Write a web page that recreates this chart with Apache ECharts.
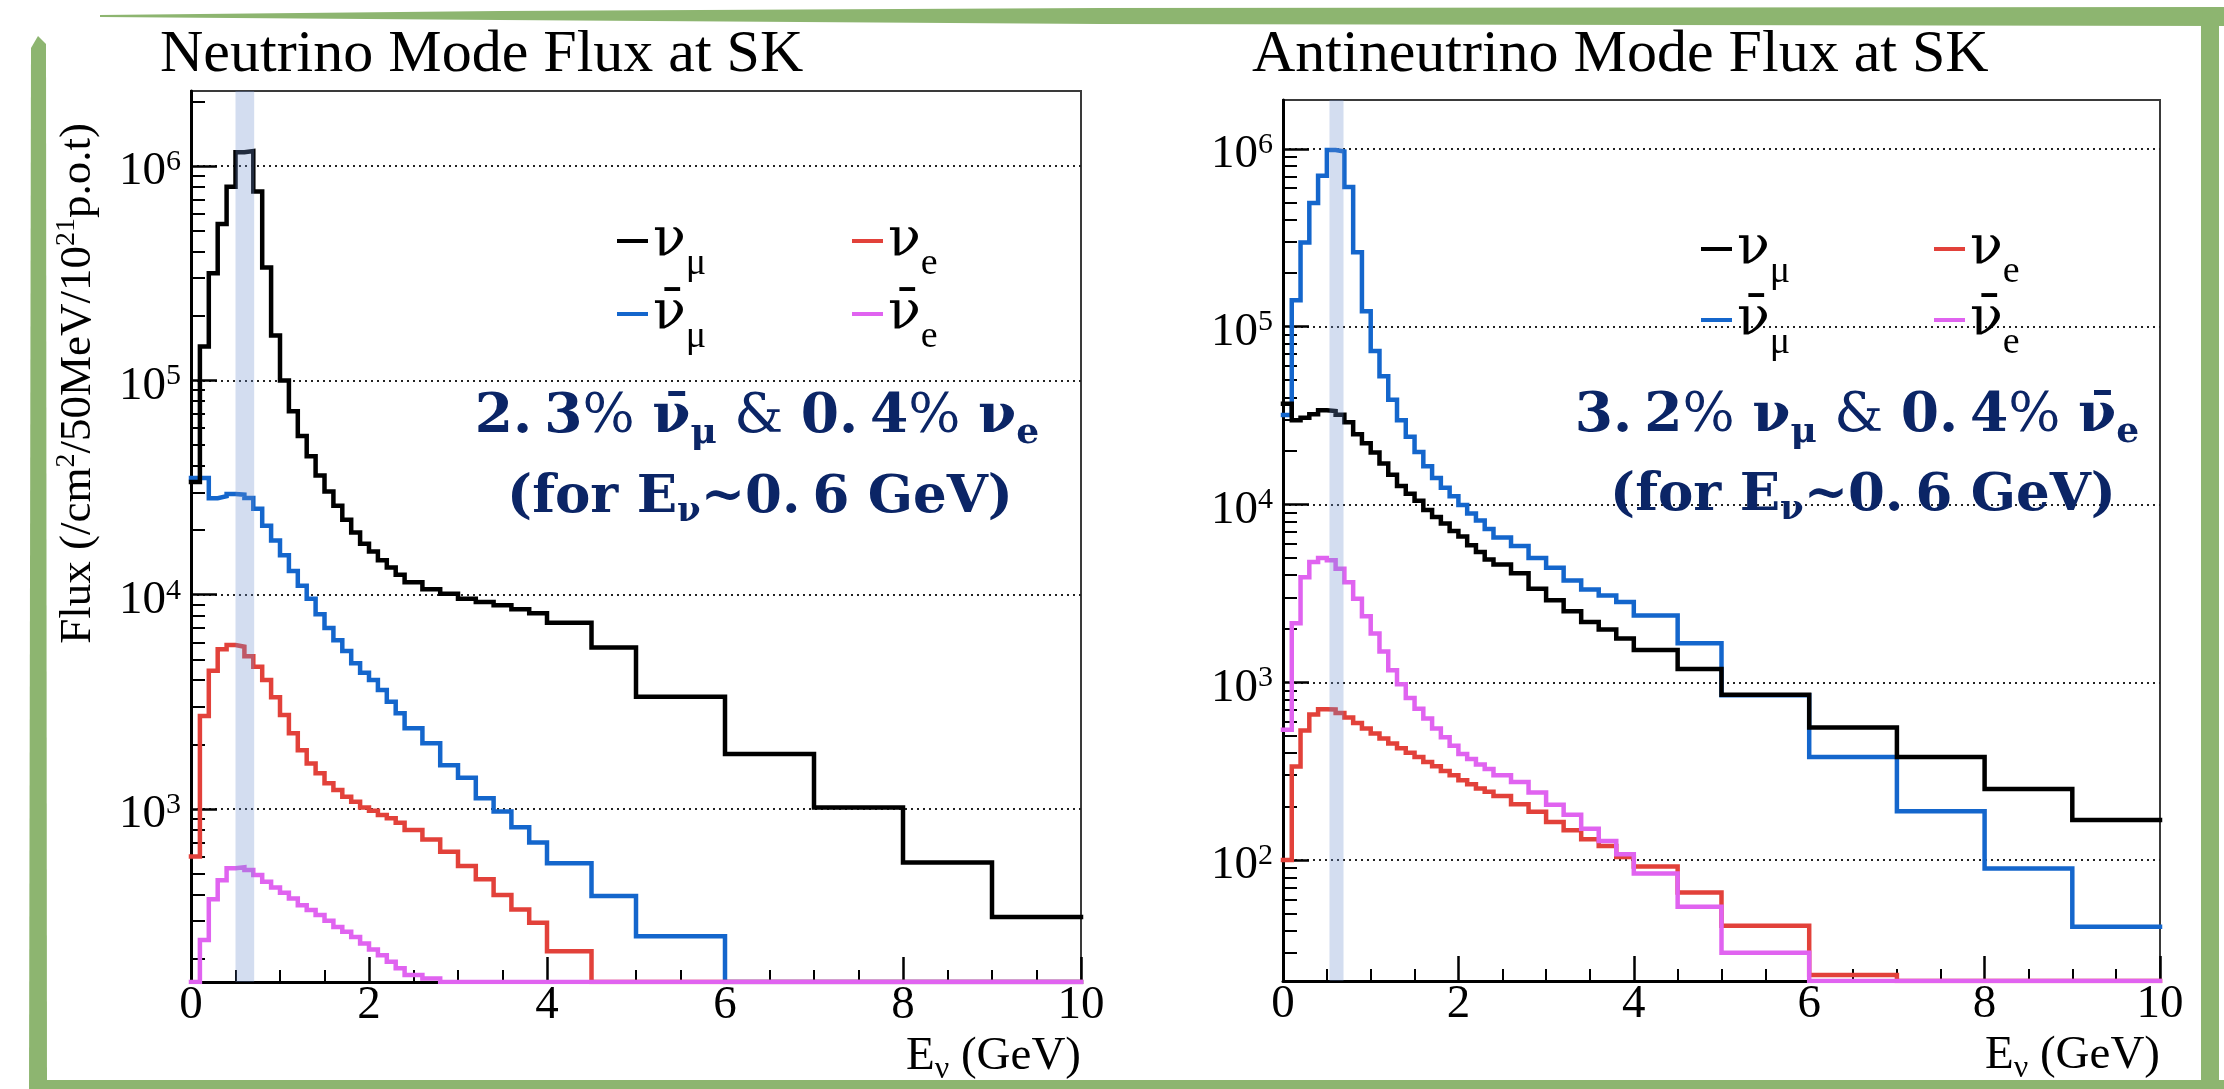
<!DOCTYPE html>
<html>
<head>
<meta charset="utf-8">
<script src="https://cdn.jsdelivr.net/npm/echarts@6/dist/echarts.min.js"></script>
<style>
  html, body { margin: 0; padding: 0; background: #ffffff; }
  #chart { width: 2224px; height: 1089px; }
</style>
</head>
<body>
<div id="chart"></div>
<script>
// Energy bin edges (GeV): 0.1 GeV bins to 2.4, 0.2 GeV bins to 4.0, then coarse bins
const binEdges = [0, 0.1, 0.2, 0.3, 0.4, 0.5, 0.6, 0.7, 0.8, 0.9, 1.0, 1.1, 1.2, 1.3, 1.4, 1.5, 1.6, 1.7, 1.8, 1.9,
  2.0, 2.1, 2.2, 2.3, 2.4, 2.6, 2.8, 3.0, 3.2, 3.4, 3.6, 3.8, 4.0, 4.5, 5, 6, 7, 8, 9, 10];

// Neutrino-mode flux at SK (/cm^2/50MeV/1e21 p.o.t), one value per bin; 0 = below the plotted range
const nuMode_numu = [33600, 144000, 316000, 536000, 800000, 1160000, 1175000, 760000, 336000, 162000,
  100000, 71800, 55000, 44300, 36000, 30300, 26000, 22400, 19500, 17300,
  15900, 14500, 13400, 12400,
  11450, 10600, 10100, 9580, 9250, 8920, 8550, 8200,
  7400, 5680, 3340, 1807, 1018, 563, 314];
const nuMode_numubar = [35000, 35000, 28200, 28800, 29500, 29300, 28300, 25200, 21000, 17900,
  15300, 12900, 11000, 9580, 8100, 7000, 6130, 5460, 4790, 4330,
  4000, 3590, 3170, 2800,
  2380, 2030, 1600, 1400, 1122, 975, 822, 698,
  558, 393, 255, 0, 0, 0, 0];
const nuMode_nue = [600, 2720, 4420, 5560, 5820, 5720, 5170, 4610, 4000, 3320,
  2750, 2260, 1880, 1630, 1470, 1318, 1227, 1141, 1082, 1018,
  982, 938, 905, 864,
  798, 722, 632, 542, 470, 397, 340, 295,
  217, 0, 0, 0, 0, 0, 0];
const nuMode_nuebar = [0, 245, 380, 466, 529, 535, 519, 492, 458, 431,
  407, 383, 356, 338, 320, 301, 282, 268, 253, 236,
  221, 208, 194, 181,
  168, 162, 0, 0, 0, 0, 0, 0,
  0, 0, 0, 0, 0, 0, 0];

// Antineutrino-mode flux at SK
const antiMode_numu = [36800, 29700, 30700, 32100, 33800, 33500, 31900, 29000, 24800, 22100,
  19600, 17000, 14700, 12700, 11500, 10500, 9300, 8500, 7800, 7100,
  6600, 5900, 5400, 4900,
  4600, 4100, 3360, 2890, 2507, 2183, 1977, 1760,
  1520, 1186, 851, 556, 380, 251, 168];
const antiMode_numubar = [31850, 140500, 297000, 495000, 706000, 985000, 966000, 610000, 262000, 122000,
  73000, 52500, 38800, 29700, 24000, 19700, 16400, 14100, 12400, 11100,
  9930, 8890, 8130, 7280,
  6510, 5830, 5000, 4400, 3740, 3320, 3080, 2830,
  2377, 1656, 845, 380, 188, 89.7, 42.2];
const antiMode_nue = [100, 336, 536, 658, 705, 703, 672, 633, 590, 550,
  515, 483, 453, 425, 401, 380, 356, 337, 317, 300,
  281, 267, 253, 242,
  229, 206, 187, 164, 147, 131, 120, 104,
  92, 65.8, 42.7, 22.6, 0, 0, 0];
const antiMode_nuebar = [540, 2150, 3900, 4750, 5000, 4850, 4350, 3650, 2950, 2350,
  1880, 1490, 1170, 975, 815, 710, 625, 550, 490, 440,
  395, 370, 345, 325,
  300, 275, 240, 205, 180, 150, 128, 108,
  84, 54.6, 30.1, 0, 0, 0, 0];

// Axis ticks
const xTickValues = [0, 2, 4, 6, 8, 10];
const nuModeYTicks = [1e3, 1e4, 1e5, 1e6];
const antiModeYTicks = [1e2, 1e3, 1e4, 1e5, 1e6];

// Flavours and their colours
const flavourColors = { 'νμ': '#000000', 'ν̄μ': '#1466cc', 'νe': '#e2413a', 'ν̄e': '#e063f0' };
const drawOrder = ['ν̄μ', 'νμ', 'νe', 'ν̄e'];
// legend grid: columns x rows
const legendColumns = [['νμ', 'ν̄μ'], ['νe', 'ν̄e']];

// Highlighted energy window around 0.6 GeV
const nuModeBand = [0.5, 0.71];
const antiModeBand = [0.53, 0.69];

const FONT = "'Liberation Serif', 'Times New Roman', serif";
const BOLD_FONT = "'DejaVu Serif', serif";
const NAVY = '#0b2566';
const GREEN = '#8db570';

const panels = [
  {
    title: 'Neutrino Mode Flux at SK', titleLeft: 160,
    grid: { left: 191, top: 91, width: 890, height: 891 },
    yMin: 156, yMax: 2.24e6, yTicks: nuModeYTicks, band: nuModeBand,
    flux: { 'νμ': nuMode_numu, 'ν̄μ': nuMode_numubar, 'νe': nuMode_nue, 'ν̄e': nuMode_nuebar },
    legendLeft: [617, 852], legendRows: [249, 322]
  },
  {
    title: 'Antineutrino Mode Flux at SK', titleLeft: 1252,
    grid: { left: 1283, top: 100, width: 877, height: 881 },
    yMin: 20.9, yMax: 1.88e6, yTicks: antiModeYTicks, band: antiModeBand,
    flux: { 'νμ': antiMode_numu, 'ν̄μ': antiMode_numubar, 'νe': antiMode_nue, 'ν̄e': antiMode_nuebar },
    legendLeft: [1701, 1934], legendRows: [257, 328]
  }
];

// Step-histogram points: left edge of every bin, plus the last right edge.
// Values under the axis minimum are drawn on the frame, as ROOT does.
function histPoints(values, yMin) {
  const pts = [];
  for (let i = 0; i < values.length; i++) {
    pts.push([binEdges[i], Math.max(values[i], yMin)]);
  }
  pts.push([binEdges[values.length], Math.max(values[values.length - 1], yMin)]);
  return pts;
}

// Minor log ticks (2..9 x 10^n) inside the axis range
function minorLogTicks(lo, hi) {
  const out = [];
  for (let e = Math.floor(Math.log10(lo)); e <= Math.ceil(Math.log10(hi)); e++) {
    for (let m = 2; m <= 9; m++) {
      const v = m * Math.pow(10, e);
      if (v > lo && v < hi) out.push(v);
    }
  }
  return out;
}

// Legend label: neutrino symbol (with its overbar for antineutrinos) and flavour subscript
const LEGEND_LINE_H = 84;
const LEGEND_TOP_OFFSET = 35;   // distance from a legend box top to its marker line
const legendRich = {
  n: { fontFamily: "'DejaVu Serif', serif", fontSize: 54, lineHeight: LEGEND_LINE_H, color: '#000' },
  s: { fontFamily: FONT, fontSize: 38, lineHeight: 20, verticalAlign: 'bottom', color: '#000' }
};
const legendLabel = name => '{n|' + name.slice(0, -1) + '}{s|' + name.slice(-1) + '}';

const grids = [], xAxes = [], yAxes = [], series = [], titles = [], legends = [];

panels.forEach((p, i) => {
  grids.push(Object.assign({
    show: true, borderColor: '#3a3a3a', borderWidth: 2,
    backgroundColor: 'transparent', containLabel: false, outerBoundsMode: 'none'
  }, p.grid));

  titles.push({
    text: p.title, left: p.titleLeft, top: 25, padding: 0,
    textStyle: { fontFamily: FONT, fontSize: 60, fontWeight: 'normal', color: '#000' }
  });

  xAxes.push({
    type: 'value', gridIndex: i, min: 0, max: 10, interval: 2,
    axisLine: { show: true, onZero: false, lineStyle: { color: '#000', width: 3 } },
    axisTick: { show: true, inside: true, length: 25, customValues: xTickValues, lineStyle: { color: '#000', width: 2.5 } },
    minorTick: { show: true, splitNumber: 4, length: 12, lineStyle: { color: '#000', width: 2 } },
    axisLabel: { show: true, margin: 0, customValues: xTickValues, fontFamily: FONT, fontSize: 47, color: '#000' },
    splitLine: { show: false }, minorSplitLine: { show: false },
    name: '{a|E}{s|ν}{a| (GeV)}', nameLocation: 'end', nameGap: 0, nameMoveOverlap: false,
    nameTextStyle: {
      align: 'right', verticalAlign: 'top', padding: [50, 0, 0, 0],
      rich: {
        a: { fontFamily: FONT, fontSize: 47, lineHeight: 50, color: '#000' },
        s: { fontFamily: FONT, fontSize: 32, lineHeight: 10, padding: [26, 0, 0, 0], color: '#000' }
      }
    }
  });

  // main log axis: decades, labels, dotted grid lines
  yAxes.push({
    type: 'log', logBase: 10, gridIndex: i, position: 'left', min: p.yMin, max: p.yMax,
    axisLine: { show: true, lineStyle: { color: '#000', width: 3 } },
    axisTick: { show: true, inside: true, length: 26, customValues: p.yTicks, lineStyle: { color: '#000', width: 2.5 } },
    axisLabel: {
      show: true, margin: 10, customValues: p.yTicks, padding: [12, 0, 0, 0],
      formatter: v => '{b|10}{s|' + Math.round(Math.log10(v)) + '}',
      rich: {
        b: { fontFamily: FONT, fontSize: 47, lineHeight: 50, color: '#000' },
        s: { fontFamily: FONT, fontSize: 30, lineHeight: 16, verticalAlign: 'top', color: '#000' }
      }
    },
    splitLine: { show: true, lineStyle: { color: '#222', width: 2, type: [2, 4] } },
    minorTick: { show: false }
  });
  // companion axis carrying the 2..9 minor ticks
  yAxes.push({
    type: 'log', logBase: 10, gridIndex: i, position: 'left', min: p.yMin, max: p.yMax,
    axisLine: { show: false },
    axisTick: { show: true, inside: true, length: 14, customValues: minorLogTicks(p.yMin, p.yMax), lineStyle: { color: '#000', width: 2 } },
    axisLabel: { show: false },
    splitLine: { show: false }
  });

  drawOrder.forEach(name => {
    series.push({
      name, type: 'line', step: 'end', xAxisIndex: i, yAxisIndex: 2 * i,
      data: histPoints(p.flux[name], p.yMin),
      showSymbol: false, symbol: 'none', silent: true, clip: true,
      color: flavourColors[name],
      lineStyle: { color: flavourColors[name], width: 4.5, cap: 'square', join: 'miter' },
      z: 3
    });
  });

  // translucent window around the oscillation maximum
  series.push({
    type: 'custom', xAxisIndex: i, yAxisIndex: 2 * i, silent: true, z: 6,
    encode: { x: [0, 1] },
    data: [p.band],
    renderItem: (params, api) => {
      const a = api.coord([api.value(0), p.yMax]);
      const b = api.coord([api.value(1), p.yMin]);
      return {
        type: 'rect',
        shape: { x: a[0], y: a[1], width: b[0] - a[0], height: b[1] - a[1] },
        style: { fill: 'rgba(108,142,205,0.30)' }
      };
    }
  });

  // one legend entry per cell of the 2x2 legend block
  legendColumns.forEach((col, c) => {
    col.forEach((name, r) => {
      legends.push({
        data: [name], orient: 'vertical',
        left: p.legendLeft[c], top: p.legendRows[r] - LEGEND_TOP_OFFSET,
        padding: 0, itemWidth: 31, itemHeight: 4,
        icon: 'rect', selectedMode: false,
        itemStyle: { borderWidth: 0 },
        formatter: legendLabel,
        textStyle: { rich: legendRich }
      });
    });
  });
});

// Fraction statements, the y-axis title and the green slide border
function annRich(size, sub, drop) {
  return {
    d: { fontFamily: BOLD_FONT, fontWeight: 'bold', fontSize: size, lineHeight: 60, fill: NAVY },
    dt: { fontFamily: BOLD_FONT, fontWeight: 'bold', fontSize: size, lineHeight: 60, padding: [0, 12, 0, 0], fill: NAVY },
    p: { fontFamily: BOLD_FONT, fontWeight: 'normal', fontSize: size, lineHeight: 60, fill: NAVY },
    u: { fontFamily: BOLD_FONT, fontWeight: 'bold', fontSize: sub, lineHeight: 20, padding: [drop, 0, 0, 0], fill: NAVY }
  };
}
function annText(x, y, text, rich) {
  return { type: 'text', x, y, z: 50, silent: true,
    style: { text, rich, align: 'center', verticalAlign: 'middle' } };
}
const line1Rich = annRich(55, 36, 32);
const line2Rich = annRich(53, 34, 28);

const graphics = [
  annText(757, 418, '{d|2}{dt|.}{d|3}{p|% }{d|ν̄}{u|μ}{p| & }{d|0}{dt|.}{d|4}{p|% }{d|ν}{u|e}', line1Rich),
  annText(760, 498, '{d|(for E}{u|ν}{d|~0}{dt|.}{d|6 GeV)}', line2Rich),
  annText(1857, 417, '{d|3}{dt|.}{d|2}{p|% }{d|ν}{u|μ}{p| & }{d|0}{dt|.}{d|4}{p|% }{d|ν̄}{u|e}', line1Rich),
  annText(1863, 496, '{d|(for E}{u|ν}{d|~0}{dt|.}{d|6 GeV)}', line2Rich),
  {
    type: 'text', x: 78, y: 123, rotation: Math.PI / 2, z: 50, silent: true,
    style: {
      text: '{a|Flux (/cm}{s|2}{a|/50MeV/10}{s|21}{a|p.o.t)}',
      align: 'right', verticalAlign: 'middle',
      rich: {
        a: { fontFamily: FONT, fontSize: 45, lineHeight: 50, fill: '#000' },
        s: { fontFamily: FONT, fontSize: 28, lineHeight: 18, verticalAlign: 'top', fill: '#000' }
      }
    }
  },
  // slide border strokes
  { type: 'polygon', z: 100, silent: true,
    shape: { points: [[100, 15], [500, 11], [1100, 8], [2224, 7], [2224, 26], [1100, 24], [500, 20], [100, 17]] },
    style: { fill: GREEN } },
  { type: 'polygon', z: 100, silent: true,
    shape: { points: [[31, 48], [38, 36], [46, 44], [47, 1089], [29, 1089]] },
    style: { fill: GREEN } },
  { type: 'rect', z: 100, silent: true, shape: { x: 29, y: 1080, width: 2195, height: 9 }, style: { fill: GREEN } },
  { type: 'rect', z: 100, silent: true, shape: { x: 2201, y: 8, width: 18, height: 1081 }, style: { fill: GREEN } }
];

const chart = echarts.init(document.getElementById('chart'), null, { renderer: 'canvas', width: 2224, height: 1089 });
chart.setOption({
  animation: false,
  backgroundColor: '#ffffff',
  title: titles,
  legend: legends,
  grid: grids,
  xAxis: xAxes,
  yAxis: yAxes,
  series,
  graphic: graphics
});
</script>
</body>
</html>
